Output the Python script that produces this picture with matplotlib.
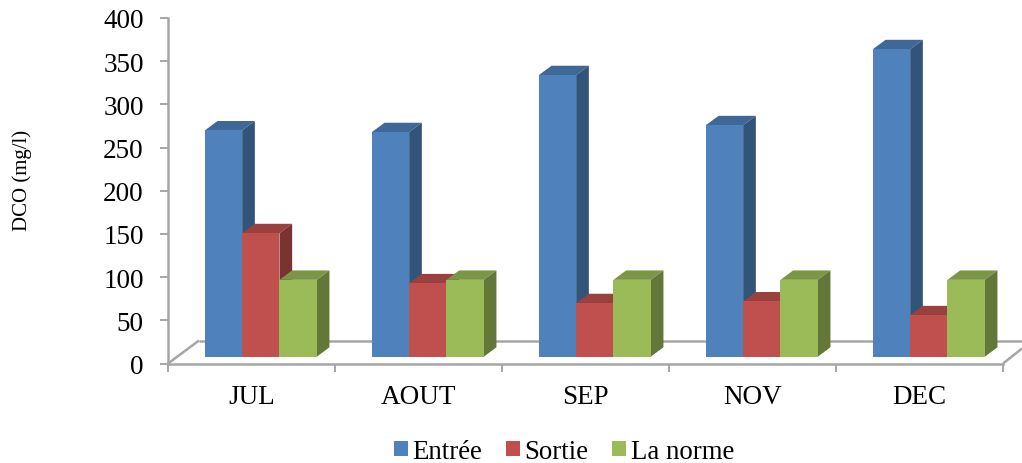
import matplotlib
matplotlib.use("Agg")
import matplotlib.pyplot as plt
from matplotlib.patches import Polygon
from matplotlib.lines import Line2D

categories = ["JUL", "AOUT", "SEP", "NOV", "DEC"]
entree = [262, 260, 326, 268, 356]
sortie = [143, 85, 62, 64, 48]
norme = [89, 89, 89, 89, 89]
series_names = ["Entrée", "Sortie", "La norme"]
yticks = [0, 50, 100, 150, 200, 250, 300, 350, 400]

front = ["#4F81BD", "#C0504D", "#9BBB59"]
top = ["#3F6797", "#9A403E", "#7C9647"]
side = ["#335479", "#7B3331", "#637838"]
axis_c = "#A6A6A6"

W, H = 1022, 464
plt.rcParams["font.family"] = ["Liberation Serif", "DejaVu Serif"]
fig = plt.figure(figsize=(W / 100, H / 100), dpi=100)
L, R, T, B = 168, 1003, 19, 364.5
ax = fig.add_axes([L / W, 1 - B / H, (R - L) / W, (B - T) / H])
ax.set_xlim(-0.5, 4.5)
ax.set_ylim(0, 400)

px = 5 / (R - L)
py = 400 / (B - T)
bar_w = 37.3 * px
base = 6.8 * py
ddx = 12.7 * px
ddy = 9.4 * py
shift = 9.3 * px

# floor
fx, fy = 31 * px, 23 * py
line_kw = dict(clip_on=False, color=axis_c, lw=1.8, solid_capstyle="butt", zorder=1)
ax.add_line(Line2D([-0.5, -0.5 + fx], [0, fy], **line_kw))
ax.add_line(Line2D([-0.5 + fx, 4.5 + 19 * px], [fy, fy], **line_kw))
ax.add_line(Line2D([4.5, 4.5 + 19 * px], [0, 15 * py], **line_kw))

for i, vals in enumerate([entree, sortie, norme]):
    z = 2 + i
    xs = [c + shift + (i - 1) * bar_w for c in range(len(vals))]
    ax.bar(xs, vals, width=bar_w, bottom=base, color=front[i], zorder=z + 0.5,
           label=series_names[i], linewidth=0, clip_on=False)
    for x, v in zip(xs, vals):
        xl, xr = x - bar_w / 2, x + bar_w / 2
        yb, yt = base, base + v
        ax.add_patch(Polygon([(xl, yt), (xr, yt), (xr + ddx, yt + ddy), (xl + ddx, yt + ddy)],
                             fc=top[i], ec="none", zorder=z, clip_on=False))
        ax.add_patch(Polygon([(xr, yb), (xr + ddx, yb + ddy), (xr + ddx, yt + ddy), (xr, yt)],
                             fc=side[i], ec="none", zorder=z, clip_on=False))

for s in ["top", "right"]:
    ax.spines[s].set_visible(False)
for s in ["left", "bottom"]:
    ax.spines[s].set_color(axis_c)
    ax.spines[s].set_linewidth(1.8)
    ax.spines[s].set_zorder(1.5)

ax.set_yticks(yticks)
ax.tick_params(axis="y", length=6, width=1.4, color=axis_c, labelsize=19.5, pad=11.5, labelcolor="black")
ax.set_xticks([-0.5, 0.5, 1.5, 2.5, 3.5, 4.5])
ax.set_xticklabels([])
ax.set_xticks(range(5), categories, minor=True)
ax.tick_params(axis="x", which="major", length=6, width=1.4, color=axis_c)
ax.tick_params(axis="x", which="minor", length=0, labelsize=19.5, pad=15, labelcolor="black")

fig.text(22 / W, 1 - 180 / H, "DCO (mg/l)", rotation=90, ha="center", va="center", fontsize=15)

h, l = ax.get_legend_handles_labels()
fig.legend(h, l, ncol=3, frameon=False, fontsize=19.3, loc="center",
           bbox_to_anchor=(564 / W, 1 - 452.5 / H), handlelength=0.53, handleheight=0.53,
           handletextpad=0.16, columnspacing=0.88)
fig.savefig("out.png", dpi=100)
